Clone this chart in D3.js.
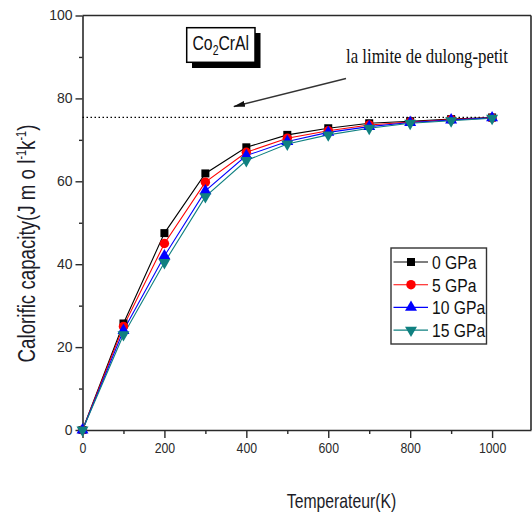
<!DOCTYPE html>
<html>
<head>
<meta charset="utf-8">
<script src="https://cdn.jsdelivr.net/npm/d3@7"></script>
<style>
  html, body { margin: 0; padding: 0; background: #fff; }
  svg { display: block; }
  text { font-family: "Liberation Sans", Arial, sans-serif; }
  text.serif { font-family: "Liberation Serif", "Times New Roman", serif; }
</style>
</head>
<body>
<svg id="chart" width="532" height="514"></svg>
<script>
// Temperature grid (K)
const temperatures = [0, 100, 200, 300, 400, 500, 600, 700, 800, 900, 1000];

// Heat capacity Cv (J mol-1 K-1) at each pressure
const cv0GPa  = [0, 25.7, 47.5, 61.9, 68.2, 71.2, 72.8, 74.0, 74.5, 75.0, 75.4];
const cv5GPa  = [0, 25.0, 45.0, 59.8, 67.0, 70.4, 72.2, 73.6, 74.3, 74.9, 75.3];
const cv10GPa = [0, 24.0, 42.0, 57.7, 66.2, 69.6, 71.8, 73.2, 74.2, 74.8, 75.3];
const cv15GPa = [0, 23.0, 40.4, 56.3, 65.0, 69.0, 71.2, 72.8, 74.0, 74.6, 75.2];

const seriesLabels = ["0 GPa", "5 GPa", "10 GPa", "15 GPa"];
const seriesColors = ["#000000", "#ff0000", "#0000ff", "#0f8080"];
const seriesSymbols = [d3.symbolSquare, d3.symbolCircle, d3.symbolTriangle, "down"];

// Dulong-Petit limit
const dulongPetit = 75.4;

const xMajorTicks = [0, 200, 400, 600, 800, 1000];
const xMinorTicks = [100, 300, 500, 700, 900];
const yMajorTicks = [0, 20, 40, 60, 80, 100];
const yMinorTicks = [10, 30, 50, 70, 90];

const svg = d3.select("#chart");
const plotLeft = 82.5, plotRight = 531, plotTop = 15.5, plotBottom = 430;

const x = d3.scaleLinear().domain([0, 1095]).range([plotLeft, plotRight]);
const y = d3.scaleLinear().domain([0, 100]).range([plotBottom, plotTop]);

// narrow the glyph advance of a plain text element
function squeeze(sel, f) {
  sel.each(function () {
    const w = this.getComputedTextLength();
    this.setAttribute("textLength", w * f);
    this.setAttribute("lengthAdjust", "spacingAndGlyphs");
  });
}

const axisColor = "#2a2a2a";
const labelColor = "#2b2b2b";

// frame: top and right edges
svg.append("line").attr("x1", plotLeft).attr("x2", plotRight).attr("y1", plotTop).attr("y2", plotTop)
  .attr("stroke", axisColor).attr("stroke-width", 1.6);
svg.append("line").attr("x1", plotRight).attr("x2", plotRight).attr("y1", plotTop).attr("y2", plotBottom)
  .attr("stroke", axisColor).attr("stroke-width", 1.6);

// x axis
const gx = svg.append("g").attr("transform", `translate(0,${plotBottom})`);
gx.call(d3.axisBottom(x).tickValues(xMajorTicks).tickSize(8).tickSizeOuter(0).tickFormat(d3.format("d")));
gx.append("g").call(d3.axisBottom(x).tickValues(xMinorTicks).tickSize(4).tickSizeOuter(0).tickFormat(""))
  .select(".domain").remove();
gx.selectAll(".domain").attr("stroke", axisColor).attr("stroke-width", 1.6);
gx.selectAll(".tick line").attr("stroke", axisColor).attr("stroke-width", 1.4);
gx.selectAll(".tick text").attr("font-size", 14).attr("fill", labelColor)
  .attr("y", 13).attr("dy", "0.71em").call(squeeze, 0.88);

// y axis
const gy = svg.append("g").attr("transform", `translate(${plotLeft},0)`);
gy.call(d3.axisLeft(y).tickValues(yMajorTicks).tickSize(7).tickSizeOuter(0).tickFormat(d3.format("d")));
gy.append("g").call(d3.axisLeft(y).tickValues(yMinorTicks).tickSize(3.5).tickSizeOuter(0).tickFormat(""))
  .select(".domain").remove();
gy.selectAll(".domain").attr("stroke", axisColor).attr("stroke-width", 1.6);
gy.selectAll(".tick line").attr("stroke", axisColor).attr("stroke-width", 1.4);
gy.selectAll(".tick text").attr("font-size", 14).attr("fill", labelColor).attr("x", -10);

// axis titles
svg.append("text").attr("x", 341.5).attr("y", 508).attr("text-anchor", "middle")
  .attr("font-size", 21).attr("fill", "#1c1c28").text("Temperateur(K)").call(squeeze, 0.75);

const yTitle = svg.append("g").attr("transform", "translate(34.5,243.5) rotate(-90) scale(0.78,1)")
  .append("text").attr("text-anchor", "middle").attr("font-size", 24).attr("fill", "#1c1c28");
yTitle.append("tspan").text("Calorific capacity(J m o l");
yTitle.append("tspan").attr("font-size", 14).attr("dy", -9).text("-1");
yTitle.append("tspan").attr("dy", 9).text("k");
yTitle.append("tspan").attr("font-size", 14).attr("dy", -9).text("-1");
yTitle.append("tspan").attr("dy", 9).text(")");

// Dulong-Petit dotted limit
svg.append("line")
  .attr("x1", x(0)).attr("x2", x(1000)).attr("y1", y(dulongPetit)).attr("y2", y(dulongPetit))
  .attr("stroke", "#000").attr("stroke-width", 1.3).attr("stroke-dasharray", "1.5,2.5");

// annotation text and arrow
const note = svg.append("g").attr("transform", "translate(346,63)");
const noteText = note.append("text").attr("class", "serif")
  .attr("font-size", 21).attr("fill", "#111").text("la limite de dulong-petit");
const noteWidth = noteText.node().getComputedTextLength();
note.attr("transform", `translate(346,63) scale(${162 / noteWidth},1)`);

svg.append("defs").append("marker")
  .attr("id", "arrowhead").attr("viewBox", "0 0 12 6").attr("refX", 11).attr("refY", 3)
  .attr("markerWidth", 12).attr("markerHeight", 6).attr("markerUnits", "userSpaceOnUse")
  .attr("orient", "auto")
  .append("path").attr("d", "M0,0 L12,3 L0,6 Z").attr("fill", "#111");
svg.append("line").attr("x1", 346).attr("y1", 78.5).attr("x2", 234).attr("y2", 106.5)
  .attr("stroke", "#333").attr("stroke-width", 1.3).attr("marker-end", "url(#arrowhead)");

// compound label with drop shadow
svg.append("rect").attr("x", 192).attr("y", 33).attr("width", 68.5).attr("height", 35).attr("fill", "#000");
svg.append("rect").attr("x", 186.7).attr("y", 27.7).attr("width", 68.3).attr("height", 34.6)
  .attr("fill", "#fff").attr("stroke", "#000").attr("stroke-width", 1.5);
const comp = svg.append("g").attr("transform", "translate(192.5,49.5) scale(0.75,1)")
  .append("text").attr("font-size", 21).attr("fill", "#111");
comp.append("tspan").text("Co");
comp.append("tspan").attr("font-size", 14).attr("dy", 5).text("2");
comp.append("tspan").attr("dy", -5).text("CrAl");

// series
const seriesData = [cv0GPa, cv5GPa, cv10GPa, cv15GPa];
const line = d3.line().x((d, i) => x(temperatures[i])).y(d => y(d));

function markerPath(sym, size) {
  if (sym === "down") return d3.symbol(d3.symbolTriangle, size)();
  return d3.symbol(sym, size)();
}
function markerTransform(sym, cx, cy) {
  return sym === "down" ? `translate(${cx},${cy}) rotate(180)` : `translate(${cx},${cy})`;
}
const markerSizes = [64, 70, 62, 62];

seriesData.forEach((vals, s) => {
  svg.append("path").datum(vals).attr("d", line)
    .attr("fill", "none").attr("stroke", seriesColors[s]).attr("stroke-width", 1.1);
});
seriesData.forEach((vals, s) => {
  svg.append("g").selectAll("path").data(vals).join("path")
    .attr("d", markerPath(seriesSymbols[s], markerSizes[s]))
    .attr("transform", (d, i) => markerTransform(seriesSymbols[s], x(temperatures[i]), y(d)))
    .attr("fill", seriesColors[s]);
});

// legend
const legend = svg.append("g");
legend.append("rect").attr("x", 391).attr("y", 248).attr("width", 95.5).attr("height", 96)
  .attr("fill", "#fff").attr("stroke", "#333").attr("stroke-width", 1.4);
seriesLabels.forEach((lab, s) => {
  const cy = 262 + s * 22.7;
  legend.append("line").attr("x1", 393.5).attr("x2", 428).attr("y1", cy).attr("y2", cy)
    .attr("stroke", seriesColors[s]).attr("stroke-width", 1.1);
  legend.append("path").attr("d", markerPath(seriesSymbols[s], markerSizes[s]))
    .attr("transform", markerTransform(seriesSymbols[s], 411, cy)).attr("fill", seriesColors[s]);
  legend.append("text").attr("x", 432).attr("y", cy + 6.8).attr("font-size", 18.5)
    .attr("fill", "#111").text(lab).call(squeeze, 0.85);
});
</script>
</body>
</html>
